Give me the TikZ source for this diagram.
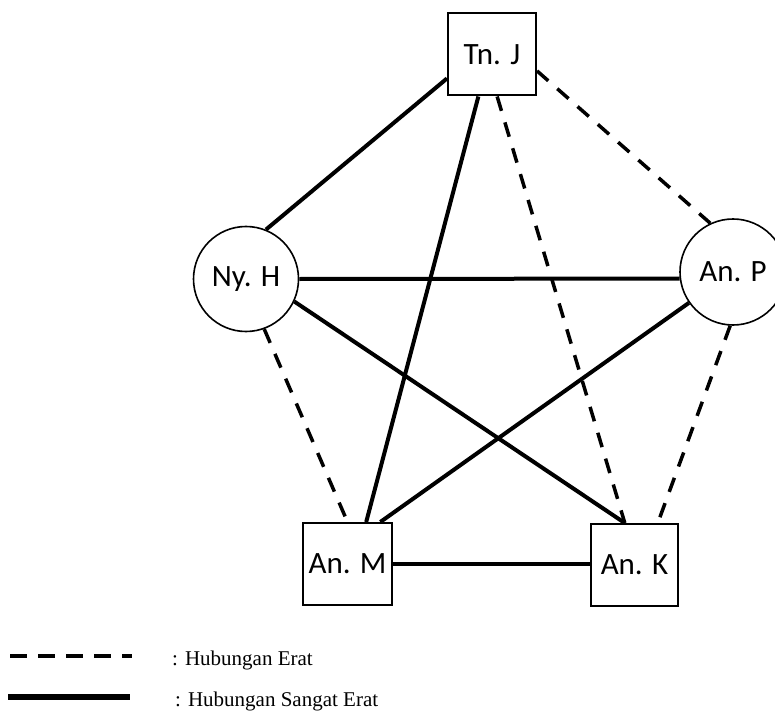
\documentclass[tikz,border=0pt]{standalone}
\usepackage{fontspec}
\setmainfont{Carlito}
\newfontfamily\legendfont{Liberation Serif}
\begin{document}
\begin{tikzpicture}[x=1pt,y=-1pt,
  boxnode/.style={draw,line width=2pt,rectangle,inner sep=0pt,minimum width=88pt,minimum height=82pt,font=\fontsize{31}{36}\selectfont},
  circnode/.style={draw,line width=1.6pt,circle,inner sep=0pt,minimum size=105pt,font=\fontsize{31}{36}\selectfont},
  strong/.style={line width=4pt},
  close/.style={line width=3.5pt,dash pattern=on 15pt off 12pt},
  legendtext/.style={anchor=west,inner sep=0pt,font=\legendfont\fontsize{21}{24}\selectfont}
]
\useasboundingbox (0,0) rectangle (775,711);
\fill[white] (0,0) rectangle (775,711);

\node[boxnode] (tnj) at (492,54.5) {Tn. J};
\node[circnode] (nyh) at (246,279) {Ny. H};
\node[circnode,minimum size=106pt] (anp) at (733,272) {An. P};
\node[boxnode,minimum width=89pt] (anm) at (347.5,564) {An. M};
\node[boxnode,minimum width=87pt] (ank) at (634.5,565) {An. K};

% solid: Hubungan Sangat Erat
\draw[strong] (tnj.208) -- (nyh.68);
\draw[strong] (tnj.252) -- (anm.66);
\draw[strong] (nyh.east) -- (anp.187.5);
\draw[strong] (nyh.335) -- (ank.103);
\draw[strong] (anp.215) -- (anm.52.5);
\draw[strong] (anm.east) -- (ank.west |- anm.east);

% dashed: Hubungan Erat
\draw[close] (tnj.340) -- (anp.115);
\draw[close] (tnj.277) -- (ank.103);
\draw[close] (nyh.290) -- (anm.north);
\draw[close] (anp.267) -- (ank.61);

% legend
\coordinate (l1a) at (10,656);
\coordinate (l1b) at (132,656);
\coordinate (l2a) at (8,697);
\coordinate (l2b) at (130,697);
\draw[line width=4.5pt,dash pattern=on 17pt off 11pt] (l1a) -- (l1b);
\draw[line width=6pt] (l2a) -- (l2b);
\node[legendtext] (lg1) at (172,660) {: Hubungan Erat};
\node[legendtext] (lg2) at (175,701) {: Hubungan Sangat Erat};
\end{tikzpicture}
\end{document}
